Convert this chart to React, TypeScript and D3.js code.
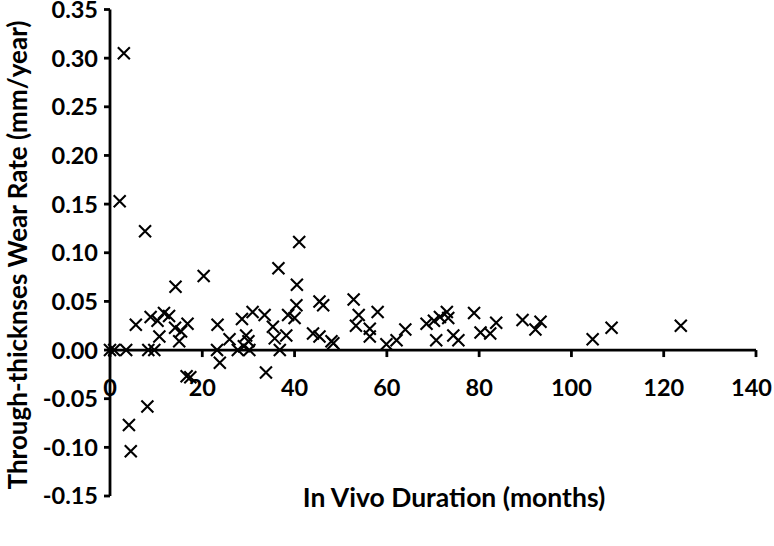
import React from 'react';
import * as d3 from 'd3';

// in vivo duration (months)
const months = [
  0, 0.9, 3.5, 2.1, 3.0, 4.1, 4.5, 5.6, 7.6, 8.1, 8.3, 9.6, 8.8, 10.3, 10.7, 11.7, 12.8,
  14.2, 14.1, 15.4, 15.0, 16.8, 16.6, 17.4, 20.3, 23.3, 23.2, 23.8, 25.9, 27.7, 28.6,
  29.0, 29.5, 30.0, 30.2, 30.9, 33.5, 33.8, 35.3, 35.7, 36.5, 36.8, 38.2, 38.6, 40.0,
  40.4, 40.5, 41.0, 44.0, 45.4, 45.4, 46.2, 48.0, 48.4, 52.8, 53.9, 53.3, 56.3, 56.3,
  58.0, 59.9, 62.1, 64.0, 68.6, 70.2, 70.7, 71.5, 73.0, 73.3, 74.4, 75.5, 78.9, 80.3,
  82.4, 83.7, 89.4, 92.2, 93.3, 104.6, 108.7, 123.7,
];

// through-thickness wear rate (mm/year)
const wearRate = [
  0, 0, 0, 0.153, 0.305, -0.077, -0.104, 0.026, 0.122, -0.058, 0, 0, 0.034, 0.030, 0.014,
  0.038, 0.035, 0.065, 0.023, 0.019, 0.009, 0.027, -0.027, -0.028, 0.076, 0.026, 0,
  -0.013, 0.011, 0, 0.032, 0.004, 0.015, 0.009, 0, 0.039, 0.036, -0.023, 0.024, 0.012,
  0.084, 0, 0.015, 0.036, 0.033, 0.046, 0.067, 0.111, 0.017, 0.014, 0.050, 0.046, 0.009,
  0.007, 0.052, 0.036, 0.025, 0.022, 0.014, 0.039, 0.006, 0.010, 0.021, 0.027, 0.030,
  0.010, 0.034, 0.039, 0.033, 0.015, 0.010, 0.038, 0.018, 0.017, 0.028, 0.031, 0.021,
  0.029, 0.011, 0.023, 0.025,
];

const xTicks = [0, 20, 40, 60, 80, 100, 120, 140];
const yTicks = [-0.15, -0.1, -0.05, 0, 0.05, 0.1, 0.15, 0.2, 0.25, 0.3, 0.35];

const xTitle = 'In Vivo Duration (months)';
const yTitle = 'Through-thicknses Wear Rate (mm/year)';

export default function App() {
  const width = 774;
  const height = 546;
  const font = 'Lato, "Open Sans", sans-serif';

  const x = d3.scaleLinear().domain([0, 140]).range([110, 756]);
  const y = d3.scaleLinear().domain([-0.15, 0.35]).range([496, 9.5]);

  const points = months.map((m, i) => ({ m, r: wearRate[i] }));
  const cross = 'M-6,-6L6,6M-6,6L6,-6';

  return (
    <svg
      width={width}
      height={height}
      style={{ position: 'absolute', left: 0, top: 0, background: '#fff' }}
    >
      {/* y axis */}
      <line x1={x(0)} x2={x(0)} y1={y(0.35)} y2={y(-0.15)} stroke="#000" strokeWidth={2.8} />
      {yTicks.map((t) => (
        <g key={t}>
          <line x1={x(0) - 6} x2={x(0)} y1={y(t)} y2={y(t)} stroke="#000" strokeWidth={2.8} />
          <text
            x={x(0) - 12}
            y={y(t)}
            dy="0.36em"
            textAnchor="end"
            fontFamily={font}
            fontWeight="bold"
            fontSize={23.5}
          >
            {t.toFixed(2)}
          </text>
        </g>
      ))}

      {/* x axis at zero */}
      <line x1={x(0)} x2={x(140)} y1={y(0)} y2={y(0)} stroke="#000" strokeWidth={2.8} />
      {xTicks.map((t) => {
        // keep the last label inside the picture, like the original
        const last = t === xTicks[xTicks.length - 1];
        return (
          <g key={t}>
            <line x1={x(t)} x2={x(t)} y1={y(0)} y2={y(0) + 7} stroke="#000" strokeWidth={2.8} />
            <text
              x={last ? width - 2 : x(t)}
              y={396}
              textAnchor={last ? 'end' : 'middle'}
              fontFamily={font}
              fontWeight="bold"
              fontSize={23.5}
            >
              {t}
            </text>
          </g>
        );
      })}

      {/* points */}
      {points.map((p, i) => (
        <path
          key={i}
          d={cross}
          transform={`translate(${x(p.m)},${y(p.r)})`}
          stroke="#000"
          strokeWidth={2.1}
          fill="none"
        />
      ))}

      {/* titles */}
      <text
        x={454}
        y={507}
        textAnchor="middle"
        fontFamily={font}
        fontWeight="bold"
        fontSize={26.5}
      >
        {xTitle}
      </text>
      <text
        transform={`translate(27,${255}) rotate(-90)`}
        textAnchor="middle"
        fontFamily={font}
        fontWeight="bold"
        fontSize={26}
      >
        {yTitle}
      </text>
    </svg>
  );
}
